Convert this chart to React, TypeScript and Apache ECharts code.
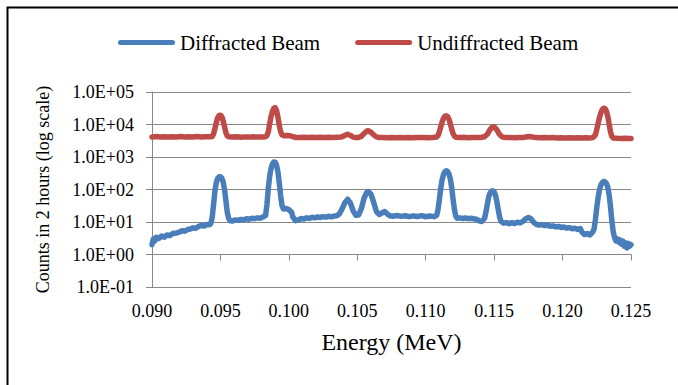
import React, { useEffect, useRef } from "react";
import * as echarts from "echarts";

const seriesNames = ["Diffracted Beam", "Undiffracted Beam"];
const seriesColors = ["#4A7EBB", "#BE4B48"];

// [energy (MeV), counts in 2 hours]
const diffractedBeam: [number, number][] = [
  [0.0900, 2.0], [0.0901, 3.0], [0.0902, 2.6], [0.0903, 3.4], [0.0905, 3.1], [0.0907, 3.7], [0.0909, 3.4], [0.0911, 4.0],
  [0.0913, 3.8], [0.0915, 4.4], [0.0918, 4.6], [0.0920, 4.9], [0.0922, 5.4], [0.0924, 5.2], [0.0926, 5.9], [0.0928, 6.1],
  [0.0930, 6.6], [0.0932, 6.4], [0.0934, 7.3], [0.0936, 7.8], [0.0938, 7.5], [0.0940, 8.4], [0.0942, 8.2], [0.0943, 9.0],
  [0.0944, 14], [0.0945, 35], [0.0946, 90], [0.0947, 165], [0.0948, 220], [0.0949, 245], [0.0950, 245], [0.0951, 225],
  [0.0952, 170], [0.0953, 100], [0.0954, 45], [0.0955, 20], [0.0956, 13], [0.0957, 11],
  [0.0959, 10.8], [0.0961, 11.6], [0.0963, 11.2], [0.0965, 12.0], [0.0967, 11.7], [0.0969, 12.6], [0.0971, 12.2],
  [0.0973, 13.0], [0.0975, 12.7], [0.0977, 13.4], [0.0979, 13.1], [0.0981, 14.2], [0.0983, 16],
  [0.0984, 35], [0.0985, 110], [0.0986, 260], [0.0987, 440], [0.0988, 610], [0.0989, 700], [0.0990, 690], [0.0991, 560],
  [0.0992, 350], [0.0993, 160], [0.0994, 65], [0.0995, 32], [0.0996, 25], [0.0998, 26], [0.1000, 24], [0.1002, 20],
  [0.1003, 14], [0.1005, 11], [0.1007, 11.5],
  [0.1009, 12.8], [0.1011, 12.3], [0.1013, 13.4], [0.1015, 12.9], [0.1017, 14.0], [0.1019, 13.4], [0.1021, 14.3],
  [0.1023, 13.8], [0.1025, 14.6], [0.1027, 14.1], [0.1029, 15.0], [0.1031, 14.4], [0.1033, 15.2], [0.1035, 15.6],
  [0.1037, 18], [0.1039, 26], [0.1041, 40], [0.1043, 50], [0.1045, 38], [0.1047, 22], [0.1049, 16], [0.1051, 16.5],
  [0.1053, 26], [0.1055, 55], [0.1057, 82], [0.1058, 87], [0.1060, 72], [0.1062, 40], [0.1064, 21], [0.1066, 17],
  [0.1068, 19], [0.1070, 21], [0.1072, 17.5], [0.1074, 15.5],
  [0.1076, 15.0], [0.1079, 15.8], [0.1082, 14.9], [0.1085, 15.6], [0.1088, 14.6], [0.1091, 15.4], [0.1094, 14.8],
  [0.1097, 15.7], [0.1100, 14.5], [0.1103, 15.3], [0.1106, 14.6], [0.1108, 16],
  [0.1109, 24], [0.1110, 50], [0.1111, 110], [0.1112, 200], [0.1113, 290], [0.1114, 350], [0.1115, 376], [0.1116, 360],
  [0.1117, 300], [0.1118, 210], [0.1119, 115], [0.1120, 50], [0.1121, 24], [0.1122, 15], [0.1123, 13],
  [0.1125, 13.4], [0.1127, 12.8], [0.1129, 13.3], [0.1131, 12.7], [0.1133, 13.1], [0.1135, 12.6], [0.1137, 12.2],
  [0.1139, 10.8], [0.1141, 10.4], [0.1143, 13],
  [0.1144, 20], [0.1145, 35], [0.1146, 58], [0.1147, 78], [0.1148, 89], [0.1149, 91], [0.1150, 85], [0.1151, 66],
  [0.1152, 42], [0.1153, 24], [0.1154, 14], [0.1155, 10.5], [0.1157, 9.2],
  [0.1159, 9.6], [0.1161, 8.9], [0.1163, 9.5], [0.1165, 9.0], [0.1167, 9.8], [0.1169, 9.4], [0.1171, 10.5], [0.1173, 12.5],
  [0.1175, 13.8], [0.1177, 12.4], [0.1179, 9.6], [0.1181, 8.4], [0.1183, 8.0], [0.1185, 8.3], [0.1187, 7.8], [0.1189, 8.0],
  [0.1191, 7.4], [0.1193, 7.6], [0.1195, 7.1], [0.1197, 7.3], [0.1199, 6.8], [0.1201, 7.0], [0.1203, 6.5], [0.1205, 6.7],
  [0.1207, 6.2], [0.1209, 6.4], [0.1211, 5.9], [0.1213, 6.3], [0.1214, 5.0], [0.1216, 4.1], [0.1218, 4.4], [0.1220, 4.0],
  [0.1222, 4.9],
  [0.1223, 6], [0.1224, 12], [0.1225, 28], [0.1226, 58], [0.1227, 100], [0.1228, 138], [0.1229, 162], [0.1230, 176],
  [0.1231, 172], [0.1232, 155], [0.1233, 120], [0.1234, 70], [0.1235, 30], [0.1236, 11], [0.1237, 5], [0.1238, 3.3],
  [0.1239, 2.6], [0.1240, 3.0], [0.1241, 2.4], [0.1242, 2.8], [0.1243, 2.1], [0.1244, 2.6], [0.1245, 1.8], [0.1246, 2.3],
  [0.1247, 1.6], [0.1248, 2.2], [0.1249, 1.8], [0.1250, 2.0],
];

const undiffractedBeam: [number, number][] = [
  [0.0900, 4150], [0.0903, 4250], [0.0906, 4100], [0.0909, 4200], [0.0912, 4120], [0.0915, 4230], [0.0918, 4150],
  [0.0921, 4250], [0.0924, 4120], [0.0927, 4200], [0.0930, 4150], [0.0933, 4250], [0.0936, 4130], [0.0939, 4220],
  [0.0942, 4180], [0.0944, 4300],
  [0.0945, 5200], [0.0946, 7500], [0.0947, 11500], [0.0948, 16000], [0.0949, 19000], [0.0950, 19400], [0.0951, 17500],
  [0.0952, 13000], [0.0953, 8500], [0.0954, 5600], [0.0955, 4500], [0.0956, 4200],
  [0.0959, 4100], [0.0962, 4180], [0.0965, 4080], [0.0968, 4160], [0.0971, 4090], [0.0974, 4170], [0.0977, 4100],
  [0.0980, 4160], [0.0983, 4200], [0.0984, 4600],
  [0.0985, 6000], [0.0986, 10500], [0.0987, 17500], [0.0988, 25000], [0.0989, 31500], [0.0990, 33000], [0.0991, 27000],
  [0.0992, 17000], [0.0993, 9500], [0.0994, 6000], [0.0995, 4800], [0.0997, 4500], [0.0999, 4600], [0.1001, 4500],
  [0.1003, 4200], [0.1005, 4000],
  [0.1008, 3950], [0.1011, 4050], [0.1014, 3950], [0.1017, 4030], [0.1020, 3960], [0.1023, 4040], [0.1026, 3970],
  [0.1029, 4050], [0.1032, 3980], [0.1035, 4040], [0.1038, 4100], [0.1040, 4400], [0.1042, 4900], [0.1043, 5000],
  [0.1045, 4600], [0.1047, 4100], [0.1049, 3950], [0.1051, 4000], [0.1053, 4300], [0.1055, 5300], [0.1057, 6300],
  [0.1058, 6400], [0.1060, 5800], [0.1062, 4800], [0.1064, 4150], [0.1066, 3950],
  [0.1069, 4000], [0.1072, 3920], [0.1075, 4000], [0.1078, 3930], [0.1081, 4010], [0.1084, 3940], [0.1087, 4000],
  [0.1090, 3930], [0.1093, 4010], [0.1096, 3950], [0.1099, 4000], [0.1102, 3940], [0.1105, 4000], [0.1108, 4100],
  [0.1109, 4600], [0.1110, 6000], [0.1111, 8500], [0.1112, 12000], [0.1113, 15500], [0.1114, 18000], [0.1115, 18500],
  [0.1116, 17500], [0.1117, 14500], [0.1118, 10500], [0.1119, 7200], [0.1120, 5200], [0.1121, 4400], [0.1122, 4050],
  [0.1125, 3950], [0.1128, 4020], [0.1131, 3940], [0.1134, 4000], [0.1137, 3950], [0.1140, 4000], [0.1143, 4200],
  [0.1145, 5000], [0.1147, 7000], [0.1149, 8500], [0.1150, 8400], [0.1152, 6800], [0.1154, 4900], [0.1156, 4100],
  [0.1159, 3950], [0.1162, 4000], [0.1165, 3930], [0.1168, 4000], [0.1171, 3960], [0.1174, 4200], [0.1176, 4250],
  [0.1178, 4100], [0.1181, 3950], [0.1184, 3900], [0.1187, 3960], [0.1190, 3880], [0.1193, 3950], [0.1196, 3870],
  [0.1199, 3930], [0.1202, 3860], [0.1205, 3920], [0.1208, 3850], [0.1211, 3910], [0.1214, 3850], [0.1217, 3900],
  [0.1220, 3870], [0.1222, 3950],
  [0.1223, 4300], [0.1224, 4800], [0.1225, 7000], [0.1226, 11000], [0.1227, 16500], [0.1228, 23000], [0.1229, 29000],
  [0.1230, 31500], [0.1231, 31000], [0.1232, 26000], [0.1233, 18000], [0.1234, 10500], [0.1235, 6000], [0.1236, 4300],
  [0.1237, 3850],
  [0.1240, 3750], [0.1243, 3700], [0.1246, 3760], [0.1248, 3700], [0.1250, 3720],
];

const xMin = 0.09;
const xMax = 0.125;
const xStep = 0.005;
const yMin = 0.1;
const yMax = 100000;
const xTitle = "Energy (MeV)";
const yTitle = "Counts in 2 hours (log scale)";

const FONT = "'Liberation Serif', 'Times New Roman', serif";
const GRID_COLOR = "#878787";

function formatExp(v: number): string {
  const e = Math.round(Math.log10(v));
  return "1.0E" + (e < 0 ? "-" : "+") + String(Math.abs(e)).padStart(2, "0");
}

export default function App() {
  const ref = useRef<HTMLDivElement>(null);

  useEffect(() => {
    if (!ref.current) return;
    const chart = echarts.init(ref.current, undefined, { renderer: "svg" });
    const legendIcon = "path://M2.5,0 H54.5 A2.5,2.5 0 0 1 54.5,5 H2.5 A2.5,2.5 0 0 1 2.5,0 Z";
    chart.setOption({
      animation: false,
      backgroundColor: "#ffffff",
      textStyle: { fontFamily: FONT },
      graphic: [
        {
          type: "rect",
          shape: { x: 7.5, y: 7.5, width: 720, height: 420 },
          style: { fill: "none", stroke: "#000000", lineWidth: 2 },
          silent: true,
          z: 100,
        },
      ],
      legend: {
        data: seriesNames.map((n) => ({ name: n, icon: legendIcon })),
        left: 113,
        top: 27,
        itemWidth: 57,
        itemHeight: 5,
        itemGap: 35,
        textStyle: { fontSize: 21, color: "#000", fontFamily: FONT },
      },
      grid: [
        { left: 152, right: 47, top: 92, bottom: 98 },
        { left: 152, right: 47, top: 92, bottom: 130.5 },
      ],
      xAxis: [
        {
          type: "value",
          gridIndex: 0,
          min: xMin,
          max: xMax,
          interval: xStep,
          axisLine: { show: false },
          axisTick: { show: false },
          splitLine: { show: false },
          axisLabel: {
            formatter: (v: number) => v.toFixed(3),
            fontSize: 18,
            color: "#000",
            fontFamily: FONT,
            margin: 15,
          },
          name: xTitle,
          nameLocation: "middle",
          nameGap: 43,
          nameTextStyle: { fontSize: 24, color: "#000", fontFamily: FONT },
        },
        {
          type: "value",
          gridIndex: 1,
          min: xMin,
          max: xMax,
          interval: xStep,
          axisLine: { show: true, lineStyle: { color: GRID_COLOR, width: 1 } },
          axisTick: { show: true, length: 6, lineStyle: { color: GRID_COLOR, width: 1 } },
          axisLabel: { show: false },
          splitLine: { show: false },
        },
      ],
      yAxis: [
        {
          type: "log",
          logBase: 10,
          gridIndex: 0,
          min: yMin,
          max: yMax,
          splitNumber: 6,
          axisLine: { show: true, lineStyle: { color: GRID_COLOR, width: 1 } },
          axisTick: { show: true, length: 6, lineStyle: { color: GRID_COLOR, width: 1 } },
          splitLine: { show: true, lineStyle: { color: GRID_COLOR, width: 1 } },
          minorTick: { show: false },
          axisLabel: {
            formatter: formatExp,
            fontSize: 18,
            color: "#000",
            fontFamily: FONT,
            margin: 18,
          },
          name: yTitle,
          nameLocation: "middle",
          nameGap: 100,
          nameTextStyle: { fontSize: 18, color: "#000", fontFamily: FONT },
        },
        {
          type: "value",
          gridIndex: 1,
          show: false,
          min: 0,
          max: 1,
        },
      ],
      series: [
        {
          name: seriesNames[0],
          type: "line",
          xAxisIndex: 0,
          yAxisIndex: 0,
          data: diffractedBeam,
          showSymbol: false,
          symbol: "none",
          color: seriesColors[0],
          lineStyle: { width: 5.5, color: seriesColors[0], cap: "round", join: "round" },
          z: 3,
        },
        {
          name: seriesNames[1],
          type: "line",
          xAxisIndex: 0,
          yAxisIndex: 0,
          data: undiffractedBeam,
          showSymbol: false,
          symbol: "none",
          color: seriesColors[1],
          lineStyle: { width: 5.5, color: seriesColors[1], cap: "round", join: "round" },
          z: 3,
        },
      ],
    });
    return () => chart.dispose();
  }, []);

  return (
    <div
      ref={ref}
      style={{ position: "fixed", left: 0, top: 0, width: 678, height: 385, background: "#fff" }}
    />
  );
}
